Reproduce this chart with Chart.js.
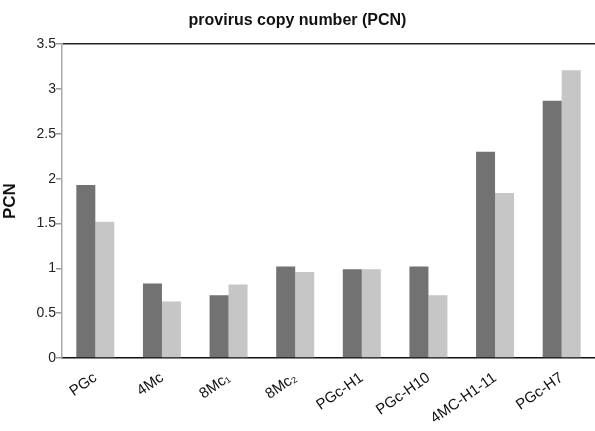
<!DOCTYPE html>
<html>
<head>
<meta charset="utf-8">
<script src="https://cdn.jsdelivr.net/npm/chart.js@4/dist/chart.umd.min.js"></script>
<style>
  html, body { margin: 0; padding: 0; background: #fff; }
  #wrap { width: 595px; height: 431px; position: relative; }
</style>
</head>
<body>
<div id="wrap"><canvas id="c" width="595" height="431"></canvas></div>
<script>
const categories = ["PGc", "4Mc", "8Mc\u2081", "8Mc\u2082", "PGc-H1", "PGc-H10", "4MC-H1-11", "PGc-H7"];
const seriesDark = [1.93, 0.83, 0.70, 1.02, 0.99, 1.02, 2.30, 2.87];
const seriesLight = [1.52, 0.63, 0.82, 0.96, 0.99, 0.70, 1.84, 3.21];
const yTicks = [0, 0.5, 1, 1.5, 2, 2.5, 3, 3.5];

new Chart(document.getElementById('c'), {
  type: 'bar',
  data: {
    labels: categories,
    datasets: [
      { label: 'A', data: seriesDark, backgroundColor: '#727272', borderWidth: 0 },
      { label: 'B', data: seriesLight, backgroundColor: '#c6c6c6', borderWidth: 0 }
    ]
  },
  options: {
    responsive: false,
    animation: false,
    devicePixelRatio: 1,
    layout: { padding: { left: 0, right: 0, top: 11, bottom: 0 } },
    datasets: { bar: { categoryPercentage: 0.57, barPercentage: 1.0 } },
    plugins: {
      legend: { display: false },
      tooltip: { enabled: false },
      title: {
        display: true,
        text: 'provirus copy number (PCN)',
        color: '#111',
        font: { family: 'Liberation Sans, Arial, sans-serif', size: 16, weight: 'bold' },
        padding: { top: 0, bottom: 14 }
      }
    },
    scales: {
      x: {
        grid: { display: false },
        border: { display: true, color: '#111', width: 1.5 },
        ticks: {
          color: '#111',
          font: { family: 'Liberation Sans, Arial, sans-serif', size: 15 },
          maxRotation: 35, minRotation: 35,
          padding: 3
        },
        afterFit: (axis) => { axis.height = 73; }
      },
      y: {
        min: 0, max: 3.5,
        afterBuildTicks: (axis) => { axis.ticks = yTicks.map(v => ({ value: v })); },
        ticks: {
          color: '#222',
          font: { family: 'Liberation Sans, Arial, sans-serif', size: 14 },
          padding: 0,
          callback: (v) => String(v)
        },
        grid: {
          drawOnChartArea: true,
          color: (ctx) => (ctx.tick && ctx.tick.value === 3.5) ? '#222' : 'rgba(0,0,0,0)',
          lineWidth: 1.5,
          drawTicks: true,
          tickLength: 6,
          tickColor: '#999'
        },
        border: { display: true, color: '#aaa', width: 1.5 },
        title: {
          display: true,
          text: 'PCN',
          color: '#111',
          font: { family: 'Liberation Sans, Arial, sans-serif', size: 17, weight: 'bold' },
          padding: { top: 0, bottom: 2 }
        },
        afterFit: (axis) => { axis.width = 62; }
      }
    }
  }
});
</script>
</body>
</html>
